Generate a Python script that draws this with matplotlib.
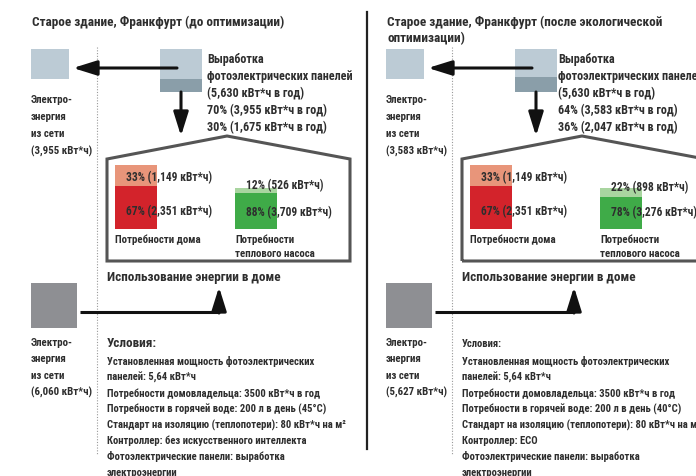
import matplotlib.pyplot as plt
from matplotlib.patches import Polygon, Rectangle

plt.rcParams['font.family'] = ['Roboto Condensed', 'DejaVu Sans']

# data: two scenarios (before / after optimisation)
titles = [["Старое здание, Франкфурт (до оптимизации)"],
          ["Старое здание, Франкфурт (после экологической", "оптимизации)"]]
pv_total = 5630
pv_pct = [(70, 30), (64, 36)]          # to grid, to house
pv_kwh = [(3955, 1675), (3583, 2047)]
grid_export = [3955, 3583]
grid_import = [6060, 5627]
home_pct = [(33, 67), (33, 67)]
home_kwh = [(1149, 2351), (1149, 2351)]
hp_pct = [(12, 88), (22, 78)]
hp_kwh = [(526, 3709), (898, 3276)]
water_temp = [45, 40]
controller = ["без искусственного интеллекта", "ECO"]

TXT = "#2e2e2e"
LIGHT_BLUE, DARK_BLUE = "#bccbd5", "#8a9ea9"
SALMON, RED = "#e8957a", "#d3232b"
LIGHT_GREEN, GREEN = "#a9d5a0", "#3fab48"
GREY = "#8e8f93"
HOUSE = "#555555"


def fmt(v):
    return f"{v:,}"


def arrow(ax, start, tip):
    ax.annotate("", xy=tip, xytext=start,
                arrowprops=dict(arrowstyle="-|>,head_length=0.8,head_width=0.25",
                                lw=2.2, color="#111111", mutation_scale=18,
                                shrinkA=0, shrinkB=0))


def txt(ax, x, y, s, size=8.3, bold=True):
    ax.text(x, y, s, fontsize=size, fontweight="bold" if bold else "normal",
            color=TXT, va="center", ha="left")


def panel(ax, i, ox, green_x, pv_text_x):
    # title
    for k, line in enumerate(titles[i]):
        txt(ax, ox + 32, 22 + 17 * k, line, size=9.5)

    # dotted separator
    ax.plot([ox + 97, ox + 97], [48, 455], color="#9a9a9a", lw=0.8, ls=(0, (1, 1.5)))

    # grid box (export)
    ax.add_patch(Rectangle((ox + 31, 50), 38, 30, color=LIGHT_BLUE, lw=0))
    lines = ["Электро-", "энергия", "из сети", f"({fmt(grid_export[i])} кВт*ч)"]
    for k, line in enumerate(lines):
        txt(ax, ox + 31, 100 + 17 * k, line, size=7.8)

    # PV box split by shares
    h = 43
    top_h = h * pv_pct[i][0] / 100
    ax.bar(ox + 160, top_h, bottom=50, width=42, align="edge", color=LIGHT_BLUE, lw=0)
    ax.bar(ox + 160, h - top_h, bottom=50 + top_h, width=42, align="edge",
           color=DARK_BLUE, lw=0)
    pv_lines = ["Выработка", "фотоэлектрических панелей",
                f"({fmt(pv_total)} кВт*ч в год)",
                f"{pv_pct[i][0]}% ({fmt(pv_kwh[i][0])} кВт*ч в год)",
                f"{pv_pct[i][1]}% ({fmt(pv_kwh[i][1])} кВт*ч в год)"]
    for k, line in enumerate(pv_lines):
        txt(ax, pv_text_x, 59 + 17.2 * k, line, size=8.7)

    arrow(ax, (ox + 177, 69), (ox + 73, 69))
    arrow(ax, (ox + 181, 93), (ox + 181, 137))

    # house outline
    house = Polygon([(ox + 107, 262), (ox + 107, 160), (ox + 227, 137),
                     (ox + 350, 160), (ox + 350, 262)], closed=True,
                    fill=False, edgecolor=HOUSE, lw=2.2, joinstyle="miter")
    ax.add_patch(house)

    # household demand bar
    hh = 64
    top = hh * home_pct[i][0] / 100
    ax.bar(ox + 115, top, bottom=166, width=42, align="edge", color=SALMON, lw=0)
    ax.bar(ox + 115, hh - top, bottom=166 + top, width=42, align="edge", color=RED, lw=0)
    txt(ax, ox + 126, 178, f"{home_pct[i][0]}% ({fmt(home_kwh[i][0])} кВт*ч)")
    txt(ax, ox + 126, 212, f"{home_pct[i][1]}% ({fmt(home_kwh[i][1])} кВт*ч)")
    txt(ax, ox + 115, 240, "Потребности дома", size=7.8)

    # heat pump bar
    gh = 41
    gtop = gh * hp_pct[i][0] / 100
    ax.bar(green_x, gtop, bottom=189, width=42, align="edge", color=LIGHT_GREEN, lw=0)
    ax.bar(green_x, gh - gtop, bottom=189 + gtop, width=42, align="edge", color=GREEN, lw=0)
    txt(ax, green_x + 11, 186 if i == 0 else 188,
        f"{hp_pct[i][0]}% ({fmt(hp_kwh[i][0])} кВт*ч)")
    txt(ax, green_x + 11, 213, f"{hp_pct[i][1]}% ({fmt(hp_kwh[i][1])} кВт*ч)")
    txt(ax, green_x, 240, "Потребности", size=7.8)
    txt(ax, green_x, 254, "теплового насоса", size=7.8)

    txt(ax, ox + 107, 278, "Использование энергии в доме", size=9.5)

    # grid import
    ax.add_patch(Rectangle((ox + 31, 284), 46, 45, color=GREY, lw=0))
    ax.plot([ox + 80, ox + 219], [313, 313], color="#111111", lw=2.2,
            solid_capstyle="butt")
    arrow(ax, (ox + 219, 314), (ox + 219, 288))
    lines = ["Электро-", "энергия", "из сети", f"({fmt(grid_import[i])} кВт*ч)"]
    for k, line in enumerate(lines):
        txt(ax, ox + 31, 343 + 16.4 * k, line, size=7.8)

    # conditions
    txt(ax, ox + 107, 344, "Условия:", size=9.5 if i == 0 else 7.7)
    cond = ["Установленная мощность фотоэлектрических",
            "панелей: 5,64 кВт*ч",
            "Потребности домовладельца: 3500 кВт*ч в год",
            f"Потребности в горячей воде: 200 л в день ({water_temp[i]}°C)",
            "Стандарт на изоляцию (теплопотери): 80 кВт*ч на м²",
            f"Контроллер: {controller[i]}",
            "Фотоэлектрические панели: выработка",
            "электроэнергии"]
    for k, line in enumerate(cond):
        txt(ax, ox + 107, 362 + 15.8 * k, line, size=7.7)


fig = plt.figure(figsize=(6.96, 4.77), dpi=100)
ax = fig.add_axes([0, 0, 1, 1])
ax.set_xlim(0, 696)
ax.set_ylim(477, 0)
ax.axis("off")

panel(ax, 0, 0, green_x=235, pv_text_x=207)
panel(ax, 1, 355, green_x=600, pv_text_x=558)

# middle divider
ax.plot([367, 367], [13, 450], color="#222222", lw=1.6)

fig.savefig("out.png", dpi=100)
